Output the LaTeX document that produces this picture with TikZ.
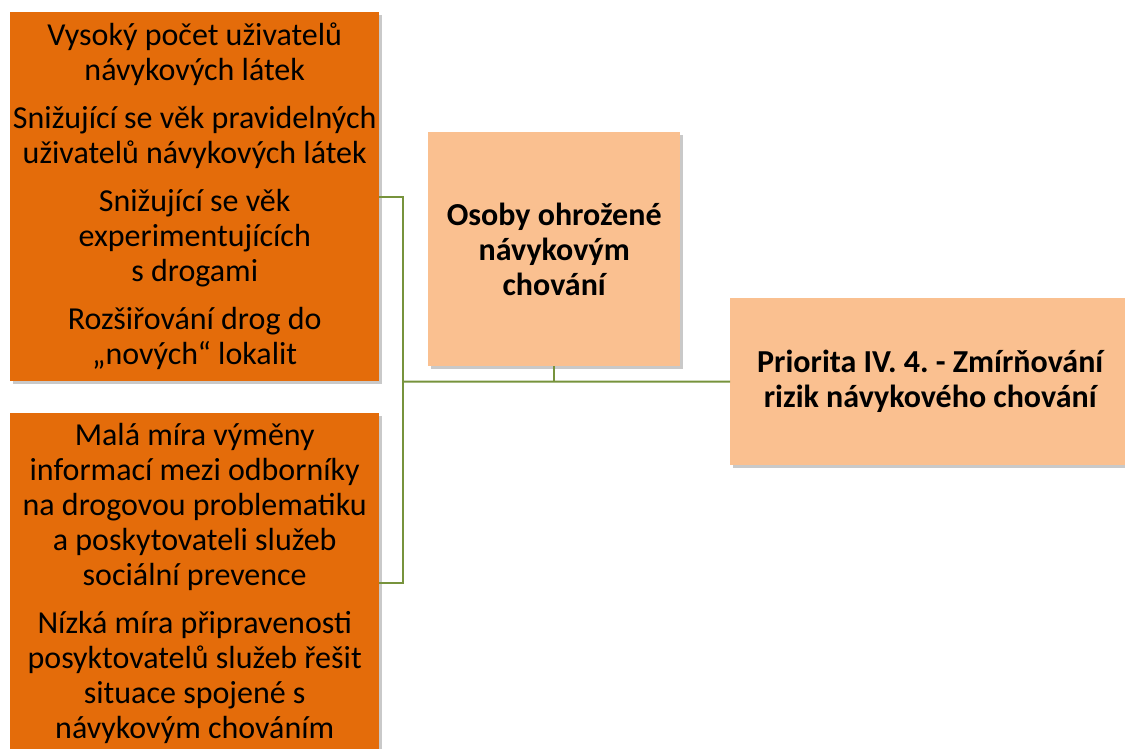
\documentclass[tikz,border=0pt]{standalone}
\usepackage{fontspec}
\setmainfont{Carlito}
\frenchspacing
\usetikzlibrary{shadows}
\definecolor{darkorange}{HTML}{E46C0A}
\definecolor{lightorange}{HTML}{FAC090}
\definecolor{linkgreen}{HTML}{77933C}
\tikzset{
  boxbase/.style={rectangle, inner sep=0pt, align=center, anchor=north west,
    drop shadow={shadow xshift=2.5pt, shadow yshift=-3pt, opacity=0.3, fill=black!70}},
  causebox/.style={boxbase, fill=darkorange, minimum width=369pt, minimum height=369pt,
    font=\fontsize{32}{35}\selectfont},
  mainbox/.style={boxbase, fill=lightorange, font=\fontsize{32}{35}\selectfont\bfseries},
  link/.style={draw=linkgreen, line width=2pt}
}
\begin{document}
\begin{tikzpicture}[x=1pt,y=-1pt]
\useasboundingbox (0,0) rectangle (1125,749);
\begin{scope}
\clip (0,0) rectangle (1125,749);
\coordinate (j) at (403,381.5);
\node[causebox] (A) at (10,12) {Vysoký počet uživatelů\\návykových látek\\[13pt]
Snižující se věk pravidelných\\uživatelů návykových látek\\[13pt]
Snižující se věk\\experimentujících\\s drogami\\[13pt]
Rozšiřování drog do\\„nových“ lokalit};
\node[causebox, minimum height=340pt] (B) at (10,413) {Malá míra výměny\\informací mezi odborníky\\na drogovou problematiku\\a poskytovateli služeb\\sociální prevence\\[13pt]
Nízká míra připravenosti\\posyktovatelů služeb řešit\\situace spojené s\\návykovým chováním};
\node[mainbox, minimum width=252pt, minimum height=234pt] (C) at (428,132) {Osoby ohrožené\\návykovým\\chování};
\node[mainbox, minimum width=400pt, minimum height=167pt] (D) at (730,298) {Priorita IV. 4. - Zmírňování\\rizik návykového chování};
\draw[link] (A.east) -| (j);
\draw[link] (B.east) -| (j);
\draw[link] (j) -- (D.west);
\draw[link] (C.south) -- (C.south |- j);
\end{scope}
\end{tikzpicture}
\end{document}
